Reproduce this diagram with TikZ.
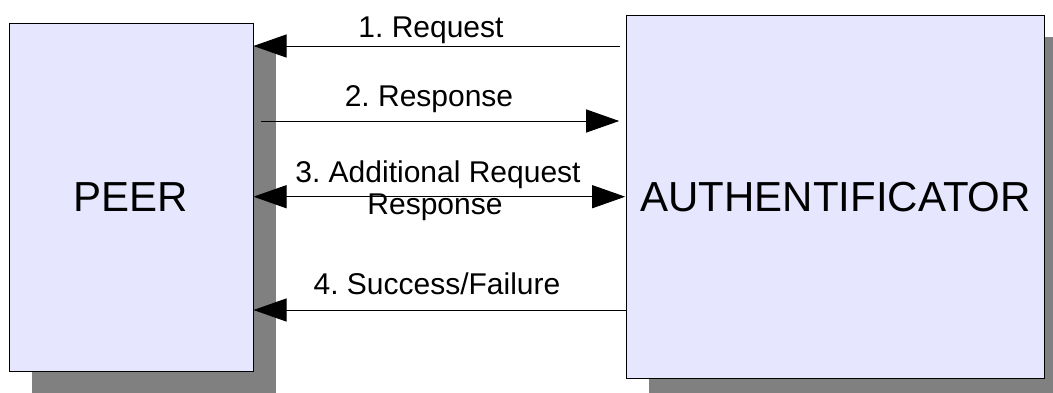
\documentclass[tikz,border=0pt]{standalone}
\usepackage{fontspec}
\setmainfont{Liberation Sans}
\usetikzlibrary{arrows.meta,shadows}

\definecolor{boxfill}{HTML}{E6E6FF}
\definecolor{shadowgray}{HTML}{808080}

\tikzset{
  party/.style={draw=black, line width=1pt, fill=boxfill, inner sep=0pt,
    font=\fontsize{42}{48}\selectfont,
    drop shadow={shadow xshift=#1, shadow yshift=-#1, fill=shadowgray, opacity=1}},
  msg/.style={line width=1pt, draw=black},
  tip/.style={-{Triangle[length=33pt,width=23pt]}},
  lbl/.style={anchor=base, inner sep=0pt, font=\fontsize{30}{32}\selectfont},
}

\begin{document}
\frenchspacing
\begin{tikzpicture}[x=1pt, y=-1pt]
  \useasboundingbox (0,0) rectangle (1053,392);
  \clip (0,0) rectangle (1053,392);

  % the two parties
  \node[party=23pt, minimum width=244pt, minimum height=348pt] (peer) at (131,197) {PEER};
  \node[party=22pt, minimum width=418pt, minimum height=362.7pt] (auth) at (835.7,196.7) {AUTHENTIFICATOR};

  % heights of the four exchanges
  \coordinate (y1) at (0,46);
  \coordinate (y2) at (0,121);
  \coordinate (y3) at (0,196.7);
  \coordinate (y4) at (0,310);

  % messages
  \draw[msg, tip, shorten <=6pt] (auth.west |- y1) -- (peer.east |- y1);
  \draw[msg, tip, shorten <=7pt, shorten >=7pt] (peer.east |- y2) -- (auth.west |- y2);
  \draw[msg, {Triangle[length=33pt,width=23pt]}-{Triangle[length=33pt,width=23pt]}, shorten >=1pt]
    (peer.east |- y3) -- (auth.west |- y3);
  \draw[msg, tip] (auth.west |- y4) -- (peer.east |- y4);

  % message labels
  \node[lbl] (l1) at (431,37) {1. Request};
  \node[lbl] (l2) at (429,106) {2. Response};
  \node[lbl] (l3a) at (438,182) {3. Additional Request};
  \node[lbl] (l3b) at (435,214) {Response};
  \node[lbl] (l4) at (437,294) {4. Success/Failure};
\end{tikzpicture}
\end{document}
